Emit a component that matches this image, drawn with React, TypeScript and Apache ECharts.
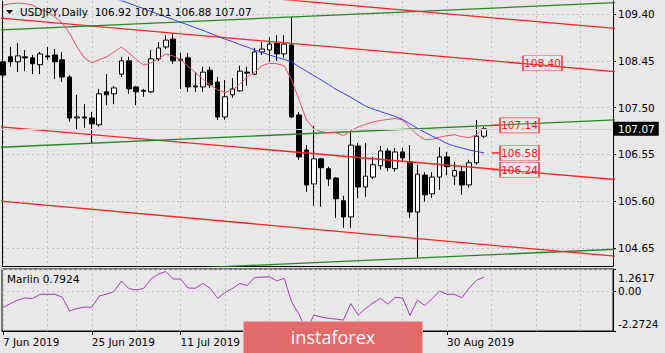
import React, { useEffect, useRef } from 'react';
import * as echarts from 'echarts';

// ---------- data ----------
const opens = [108.43, 108.53, 108.43, 108.53, 108.51, 108.37, 108.55, 108.57, 108.47, 108.12, 107.29, 107.31, 107.29, 107.15, 107.82, 107.78, 108.18, 108.45, 107.92, 107.83, 107.82, 108.49, 108.73, 108.89, 108.46, 108.51, 107.92, 107.92, 108.26, 108.02, 107.31, 107.76, 107.84, 108.22, 108.18, 108.63, 108.67, 108.81, 108.59, 108.77, 107.35, 106.64, 105.95, 106.46, 106.26, 106.07, 105.61, 105.28, 106.72, 105.89, 106.09, 106.32, 106.62, 106.26, 106.60, 106.40, 105.38, 106.13, 105.75, 106.09, 106.50, 106.11, 106.20, 105.93, 106.38, 106.92];
const highs = [108.67, 108.73, 108.81, 108.67, 108.57, 108.63, 108.73, 108.69, 108.63, 108.16, 107.76, 107.57, 107.41, 107.88, 108.18, 107.94, 108.53, 108.53, 107.94, 107.88, 108.67, 108.83, 108.97, 109.01, 108.61, 108.61, 108.22, 108.33, 108.33, 108.12, 108.06, 108.10, 108.35, 108.33, 108.71, 108.83, 108.93, 108.97, 108.97, 109.34, 107.41, 106.74, 107.13, 106.48, 106.30, 106.09, 105.71, 107.01, 106.78, 106.78, 106.50, 106.72, 106.68, 106.68, 106.68, 106.74, 106.34, 106.19, 106.19, 106.70, 106.60, 106.40, 106.30, 106.44, 107.25, 107.11];
const lows = [107.90, 108.33, 108.22, 108.24, 108.18, 108.18, 108.47, 108.08, 108.02, 107.21, 107.05, 107.09, 106.78, 107.11, 107.55, 107.57, 108.12, 107.78, 107.55, 107.72, 107.80, 108.45, 108.69, 108.39, 107.88, 107.82, 107.82, 107.82, 107.90, 107.25, 107.25, 107.70, 107.82, 107.94, 108.16, 108.57, 108.43, 108.45, 108.51, 107.29, 106.44, 105.79, 105.51, 105.49, 105.91, 105.26, 105.06, 105.06, 105.66, 105.69, 106.05, 106.24, 106.21, 106.20, 106.40, 105.26, 104.45, 105.59, 105.67, 105.83, 106.13, 105.93, 105.73, 105.87, 106.34, 106.88];
const closes = [108.16, 108.43, 108.55, 108.51, 108.39, 108.59, 108.53, 108.43, 108.12, 107.29, 107.31, 107.29, 107.17, 107.78, 107.76, 107.90, 108.45, 107.88, 107.82, 107.85, 108.49, 108.71, 108.87, 108.45, 108.48, 107.92, 107.94, 108.22, 107.96, 107.31, 107.72, 107.88, 108.24, 108.20, 108.63, 108.69, 108.79, 108.59, 108.79, 107.31, 106.50, 105.93, 106.46, 106.28, 106.05, 105.65, 105.28, 106.74, 105.89, 106.11, 106.34, 106.62, 106.28, 106.60, 106.48, 105.38, 106.15, 105.73, 106.09, 106.50, 106.30, 106.22, 105.93, 106.38, 106.92, 107.07];

// fast moving average (pink), from bar 0
const fastMA = [109.58, 109.61, 109.62, 109.61, 109.58, 109.50, 109.44, 109.34, 109.22, 109.01, 108.73, 108.51, 108.41, 108.47, 108.53, 108.63, 108.73, 108.61, 108.48, 108.36, 108.41, 108.49, 108.59, 108.55, 108.47, 108.34, 108.21, 108.08, 107.96, 107.86, 107.81, 107.86, 107.98, 108.12, 108.22, 108.35, 108.40, 108.39, 108.35, 108.06, 107.66, 107.25, 107.07, 107.01, 106.99, 106.99, 106.93, 107.03, 107.11, 107.16, 107.21, 107.24, 107.26, 107.28, 107.25, 107.09, 106.95, 106.85, 106.86, 106.90, 106.93, 106.95, 106.91, 106.89, 106.95, 107.09];
// slow moving average (blue), starting at bar slowStart
const slowStart = 13;
const slowMA = [109.85, 109.79, 109.72, 109.67, 109.62, 109.56, 109.51, 109.45, 109.40, 109.34, 109.29, 109.23, 109.18, 109.12, 109.07, 109.01, 108.95, 108.89, 108.84, 108.78, 108.73, 108.67, 108.62, 108.57, 108.52, 108.48, 108.43, 108.33, 108.24, 108.15, 108.06, 107.97, 107.87, 107.79, 107.71, 107.62, 107.53, 107.47, 107.42, 107.37, 107.32, 107.26, 107.17, 107.08, 107.00, 106.92, 106.85, 106.77, 106.72, 106.68, 106.64, 106.61, 106.58];

// Marlin oscillator
const marlin = [-0.93, -0.71, -0.51, -0.39, -0.42, -0.18, -0.18, -0.18, -0.34, -1.13, -0.99, -0.91, -0.92, -0.28, -0.17, -0.02, 0.58, 0.15, 0.06, 0.16, 0.69, 0.97, 1.12, 0.69, 0.69, 0.18, 0.16, 0.44, 0.16, -0.41, -0.08, 0.15, 0.43, 0.32, 0.78, 0.80, 0.82, 0.58, 0.73, -0.62, -1.31, -2.2724, -1.36, -1.48, -1.55, -1.59, -1.65, -0.71, -1.36, -0.99, -0.68, -0.41, -0.74, -0.36, -0.39, -1.39, -0.51, -0.82, -0.42, 0.0, -0.18, -0.18, -0.38, 0.18, 0.63, 0.7924];

// trend / channel lines: [barIndex, price] endpoints
const redLines = [
  [[-1, 109.327], [83, 108.227]],
  [[-1, 110.203], [83, 109.103]],
  [[-1, 107.120], [83, 106.037]],
  [[-1, 105.611], [83, 104.480]],
];
const greenLines = [
  [[-1, 109.071], [83, 109.633]],
  [[-1, 106.690], [83, 107.252]],
  [[-1, 104.065], [83, 104.627]],
];

// price tags
const tagPrices = [107.14, 106.58, 106.24, 108.40];
const tagBars = [69.8, 69.8, 69.8, 72.9];
const tagHasDash = [true, true, true, false];
const dashBar = 66.62;

// axes ticks (the 29 Jul and 14 Aug labels are covered by the watermark in the source)
const priceTicks = [104.65, 105.6, 106.55, 107.5, 108.45, 109.4];
const marlinTicks = [-2.2724, 0, 1.2617];
const dateTicks = [0, 12, 24, 60];
const dateLabels = ['7 Jun 2019', '25 Jun 2019', '11 Jul 2019', '30 Aug 2019'];
const gridBars = [0, 6, 12, 18, 24, 30, 36, 42, 48, 54, 60, 66, 72, 78];

const symbolName = 'USDJPY,Daily';
const indicatorName = 'Marlin';
const watermarkText = 'instaforex';

// ---------- styles ----------
const FONT = 'DejaVu Sans';
const FS = 10.5;
const BG = '#e8e8e8';
const X_MIN = -0.135;
const X_MAX = 82.43;
const Y_MIN = 104.285;
const Y_MAX = 109.664;

const dashed = { show: true, lineStyle: { color: '#c0c0c0', type: [2, 3], width: 1 } };

function buildOption() {
  const last = closes.length - 1;
  const candleData = opens.map((o, i) => [i, o, closes[i], lows[i], highs[i]]);
  const titleText = `${symbolName}  ${opens[last].toFixed(2)} ${highs[last].toFixed(2)} ${lows[last].toFixed(2)} ${closes[last].toFixed(2)}`;
  const marlinText = `${indicatorName} ${marlin[marlin.length - 1].toFixed(4)}`;

  const near = (a: number, b: number) => Math.abs(a - b) < 1e-6;

  const series: any[] = [
    {
      type: 'candlestick',
      xAxisIndex: 0,
      yAxisIndex: 0,
      data: candleData,
      barWidth: 5,
      silent: true,
      z: 2,
      itemStyle: {
        color: '#ffffff',
        color0: '#000000',
        borderColor: '#000000',
        borderColor0: '#000000',
        borderColorDoji: '#000000',
        borderWidth: 1,
      },
      markLine: {
        silent: true,
        symbol: ['none', 'none'],
        data: [{ yAxis: closes[last] }],
        lineStyle: { color: '#d2d2d2', type: 'solid', width: 1 },
        label: {
          show: true,
          position: 'end',
          distance: 0,
          formatter: () => closes[last].toFixed(2),
          backgroundColor: '#000000',
          color: '#ffffff',
          fontFamily: FONT,
          fontSize: FS,
          lineHeight: 11,
          padding: [2, 4, 1, 5],
        },
      },
    },
    ...redLines.map((d) => ({
      type: 'line',
      xAxisIndex: 0,
      yAxisIndex: 0,
      data: d,
      showSymbol: false,
      symbol: 'none',
      silent: true,
      z: 3,
      lineStyle: { color: '#ff2222', width: 1.3 },
    })),
    ...greenLines.map((d) => ({
      type: 'line',
      xAxisIndex: 0,
      yAxisIndex: 0,
      data: d,
      showSymbol: false,
      symbol: 'none',
      silent: true,
      z: 3,
      lineStyle: { color: '#2b842b', width: 1.3 },
    })),
    {
      type: 'line',
      xAxisIndex: 0,
      yAxisIndex: 0,
      data: fastMA.map((v, i) => [i, v]),
      showSymbol: false,
      symbol: 'none',
      silent: true,
      z: 4,
      lineStyle: { color: '#e4506e', width: 1 },
    },
    {
      type: 'line',
      xAxisIndex: 0,
      yAxisIndex: 0,
      data: slowMA.map((v, i) => [i + slowStart, v]),
      showSymbol: false,
      symbol: 'none',
      silent: true,
      z: 4,
      lineStyle: { color: '#3c3cf2', width: 1 },
    },
    {
      type: 'scatter',
      xAxisIndex: 0,
      yAxisIndex: 0,
      data: tagPrices.filter((_, i) => tagHasDash[i]).map((p) => [dashBar, p]),
      symbol: 'rect',
      symbolSize: [8, 1.5],
      silent: true,
      z: 5,
      itemStyle: { color: '#ff2a2a', opacity: 1 },
    },
    {
      type: 'scatter',
      xAxisIndex: 0,
      yAxisIndex: 0,
      data: tagPrices.map((p, i) => [tagBars[i], p]),
      symbol: 'rect',
      symbolSize: [39, 15],
      silent: true,
      z: 6,
      itemStyle: { color: 'rgba(255,255,255,0.12)', borderColor: '#ff3c3c', borderWidth: 1, opacity: 1 },
      label: {
        show: true,
        position: 'inside',
        formatter: (p: any) => p.value[1].toFixed(2),
        color: '#ff1a1a',
        fontFamily: FONT,
        fontSize: FS,
      },
    },
    {
      type: 'line',
      xAxisIndex: 1,
      yAxisIndex: 2,
      data: marlin.map((v, i) => [i, v]),
      showSymbol: false,
      symbol: 'none',
      silent: true,
      lineStyle: { color: '#a23cb2', width: 1 },
    },
  ];

  return {
    animation: false,
    backgroundColor: BG,
    title: [
      {
        text: titleText,
        left: 20,
        top: 6,
        padding: 0,
        textStyle: { fontFamily: FONT, fontSize: FS, fontWeight: 'normal', color: '#000000', lineHeight: 12 },
      },
      {
        text: marlinText,
        left: 7,
        top: 273,
        padding: 0,
        textStyle: { fontFamily: FONT, fontSize: FS, fontWeight: 'normal', color: '#000000', lineHeight: 12 },
      },
    ],
    grid: [
      { left: 2, right: 52, top: 1, height: 265, show: false, containLabel: false, outerBoundsMode: 'none' },
      {
        left: 2, right: 52, top: 269, height: 62,
        show: true, borderColor: '#000000', borderWidth: 1, backgroundColor: 'transparent',
        containLabel: false, outerBoundsMode: 'none',
      },
    ],
    xAxis: [
      {
        type: 'value', gridIndex: 0, min: X_MIN, max: X_MAX,
        axisLine: { show: true, onZero: false, lineStyle: { color: '#000000', width: 1 } },
        axisTick: { show: false, customValues: gridBars },
        axisLabel: { show: false },
        splitLine: dashed,
      },
      {
        type: 'value', gridIndex: 1, min: X_MIN, max: X_MAX,
        axisLine: { show: false },
        axisTick: { show: false, customValues: gridBars },
        axisLabel: { show: false },
        splitLine: dashed,
      },
      {
        type: 'value', gridIndex: 1, min: X_MIN, max: X_MAX, position: 'bottom',
        axisLine: { show: true, onZero: false, lineStyle: { color: '#000000', width: 1 } },
        axisTick: { show: true, length: 4, customValues: dateTicks, lineStyle: { color: '#000000' } },
        axisLabel: {
          show: true,
          customValues: dateTicks,
          formatter: (v: number) => {
            const k = dateTicks.findIndex((t) => near(t, v));
            return k >= 0 ? dateLabels[k] : '';
          },
          align: 'left',
          margin: 5,
          color: '#000000',
          fontFamily: FONT,
          fontSize: FS,
        },
        splitLine: { show: false },
      },
    ],
    yAxis: [
      {
        type: 'value', gridIndex: 0, position: 'right', min: Y_MIN, max: Y_MAX,
        axisLine: { show: true, onZero: false, lineStyle: { color: '#000000', width: 1 } },
        axisTick: { show: true, length: 3, customValues: priceTicks, lineStyle: { color: '#000000' } },
        axisLabel: {
          show: true,
          customValues: priceTicks,
          formatter: (v: number) => v.toFixed(2),
          margin: 5,
          color: '#000000',
          fontFamily: FONT,
          fontSize: FS,
        },
        splitLine: dashed,
      },
      {
        type: 'value', gridIndex: 0, position: 'left', min: Y_MIN, max: Y_MAX,
        axisLine: { show: true, onZero: false, lineStyle: { color: '#000000', width: 1 } },
        axisTick: { show: false },
        axisLabel: { show: false },
        splitLine: { show: false },
      },
      {
        type: 'value', gridIndex: 1, position: 'right', min: marlinTicks[0], max: marlinTicks[2],
        axisLine: { show: true, onZero: false, lineStyle: { color: '#000000', width: 1 } },
        axisTick: { show: true, length: 3, customValues: marlinTicks, lineStyle: { color: '#000000' } },
        axisLabel: {
          show: true,
          customValues: marlinTicks,
          formatter: (v: number) => {
            if (near(v, marlinTicks[2])) return `{t|${v.toFixed(4)}}`;
            if (near(v, marlinTicks[0])) return `{b|${v.toFixed(4)}}`;
            return v.toFixed(2);
          },
          margin: 5,
          color: '#000000',
          fontFamily: FONT,
          fontSize: FS,
          rich: {
            t: { padding: [17, 0, 0, 0], fontFamily: FONT, fontSize: FS, color: '#000000' },
            b: { padding: [0, 0, 14, 0], fontFamily: FONT, fontSize: FS, color: '#000000' },
          },
        },
        splitLine: dashed,
      },
    ],
    graphic: [
      {
        type: 'polygon',
        shape: { points: [[6, 10], [13, 10], [9.5, 14]] },
        style: { fill: '#000000' },
        silent: true,
      },
      {
        type: 'group',
        z: 100,
        silent: true,
        children: [
          {
            type: 'rect',
            shape: { x: 243.5, y: 321.5, width: 179, height: 34 },
            style: { fill: '#e36a6a', stroke: '#f0a6a6', lineWidth: 1 },
            z: 100,
          },
          {
            type: 'text',
            x: 333,
            y: 337,
            style: {
              text: watermarkText,
              fill: '#ffffff',
              font: '18px "Open Sans"',
              textAlign: 'center',
              textVerticalAlign: 'middle',
            },
            z: 101,
          },
        ],
      },
    ],
    series,
  };
}

export default function App() {
  const ref = useRef<HTMLDivElement>(null);
  useEffect(() => {
    if (!ref.current) return;
    const chart = echarts.init(ref.current, undefined, { renderer: 'svg' });
    chart.setOption(buildOption() as any);
    return () => chart.dispose();
  }, []);
  return (
    <div
      ref={ref}
      style={{ position: 'fixed', left: 0, top: 0, width: 665, height: 353, background: BG }}
    />
  );
}
